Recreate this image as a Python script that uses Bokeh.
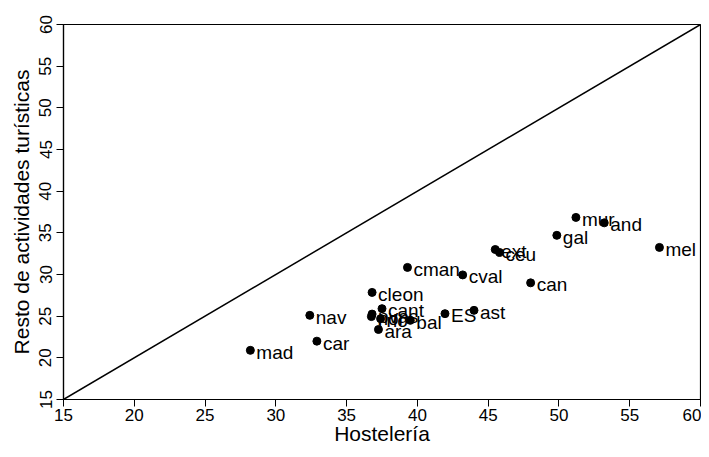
from bokeh.plotting import figure
from bokeh.models import Range1d, FixedTicker, ColumnDataSource
from bokeh.embed import file_html
from bokeh.resources import INLINE
from bokeh.core.properties import value

# Data (Hostelería vs Resto de actividades turísticas)
regions = ["mad", "car", "nav", "cleon", "cant", "pvas", "nor", "rio", "bal", "ara",
           "ES", "ast", "cval", "cman", "can", "ext", "ceu", "gal", "mur", "and", "mel"]
hosteleria = [28.2, 32.9, 32.4, 36.8, 37.5, 36.8, 36.75, 37.4, 39.5, 37.25,
              41.95, 44.0, 43.2, 39.3, 48.0, 45.5, 45.8, 49.85, 51.2, 53.2, 57.1]
resto = [20.9, 22.0, 25.1, 27.85, 25.9, 25.25, 24.95, 24.7, 24.5, 23.4,
         25.3, 25.7, 29.95, 30.85, 29.0, 33.0, 32.65, 34.7, 36.85, 36.2, 33.25]
diag = [15, 60]
ticks = [15, 20, 25, 30, 35, 40, 45, 50, 55, 60]

FONT = "Liberation Sans"

p = figure(width=701, height=449, output_backend="svg", toolbar_location=None,
           x_range=Range1d(15, 60), y_range=Range1d(15, 60),
           min_border_left=63, min_border_right=1, min_border_top=24, min_border_bottom=50)
p.grid.visible = False
p.outline_line_color = "black"
p.outline_line_width = 1.2
p.background_fill_color = "white"
p.border_fill_color = "white"

for ax in (p.xaxis[0], p.yaxis[0]):
    ax.ticker = FixedTicker(ticks=ticks)
    ax.axis_line_color = "black"
    ax.axis_line_width = 1.2
    ax.major_tick_line_color = "black"
    ax.major_tick_out = 7
    ax.major_tick_in = 0
    ax.minor_tick_line_color = None
    ax.major_label_text_font = FONT
    ax.major_label_text_font_size = "17px"
    ax.major_label_text_color = "black"
    ax.axis_label_text_font = FONT
    ax.axis_label_text_font_size = "21px"
    ax.axis_label_text_font_style = "normal"
    ax.axis_label_text_color = "black"

p.xaxis.axis_label = "Hostelería"
p.yaxis.axis_label = "Resto de actividades turísticas"
p.yaxis.major_label_orientation = "vertical"
p.xaxis.major_label_standoff = 2
p.yaxis.major_label_standoff = 5
p.xaxis.axis_label_standoff = -2
p.yaxis.axis_label_standoff = 4

src = ColumnDataSource(dict(x=hosteleria, y=resto, lab=regions))

p.line(diag, diag, line_color="black", line_width=1.5)
p.scatter("x", "y", source=src, size=8, color="black")
p.text("x", "y", text="lab", source=src, x_offset=6, y_offset=2,
       text_font=value(FONT), text_font_size="19px", text_color="black",
       text_baseline="middle", text_align="left")

open("out.html", "w").write(file_html(p, INLINE))
